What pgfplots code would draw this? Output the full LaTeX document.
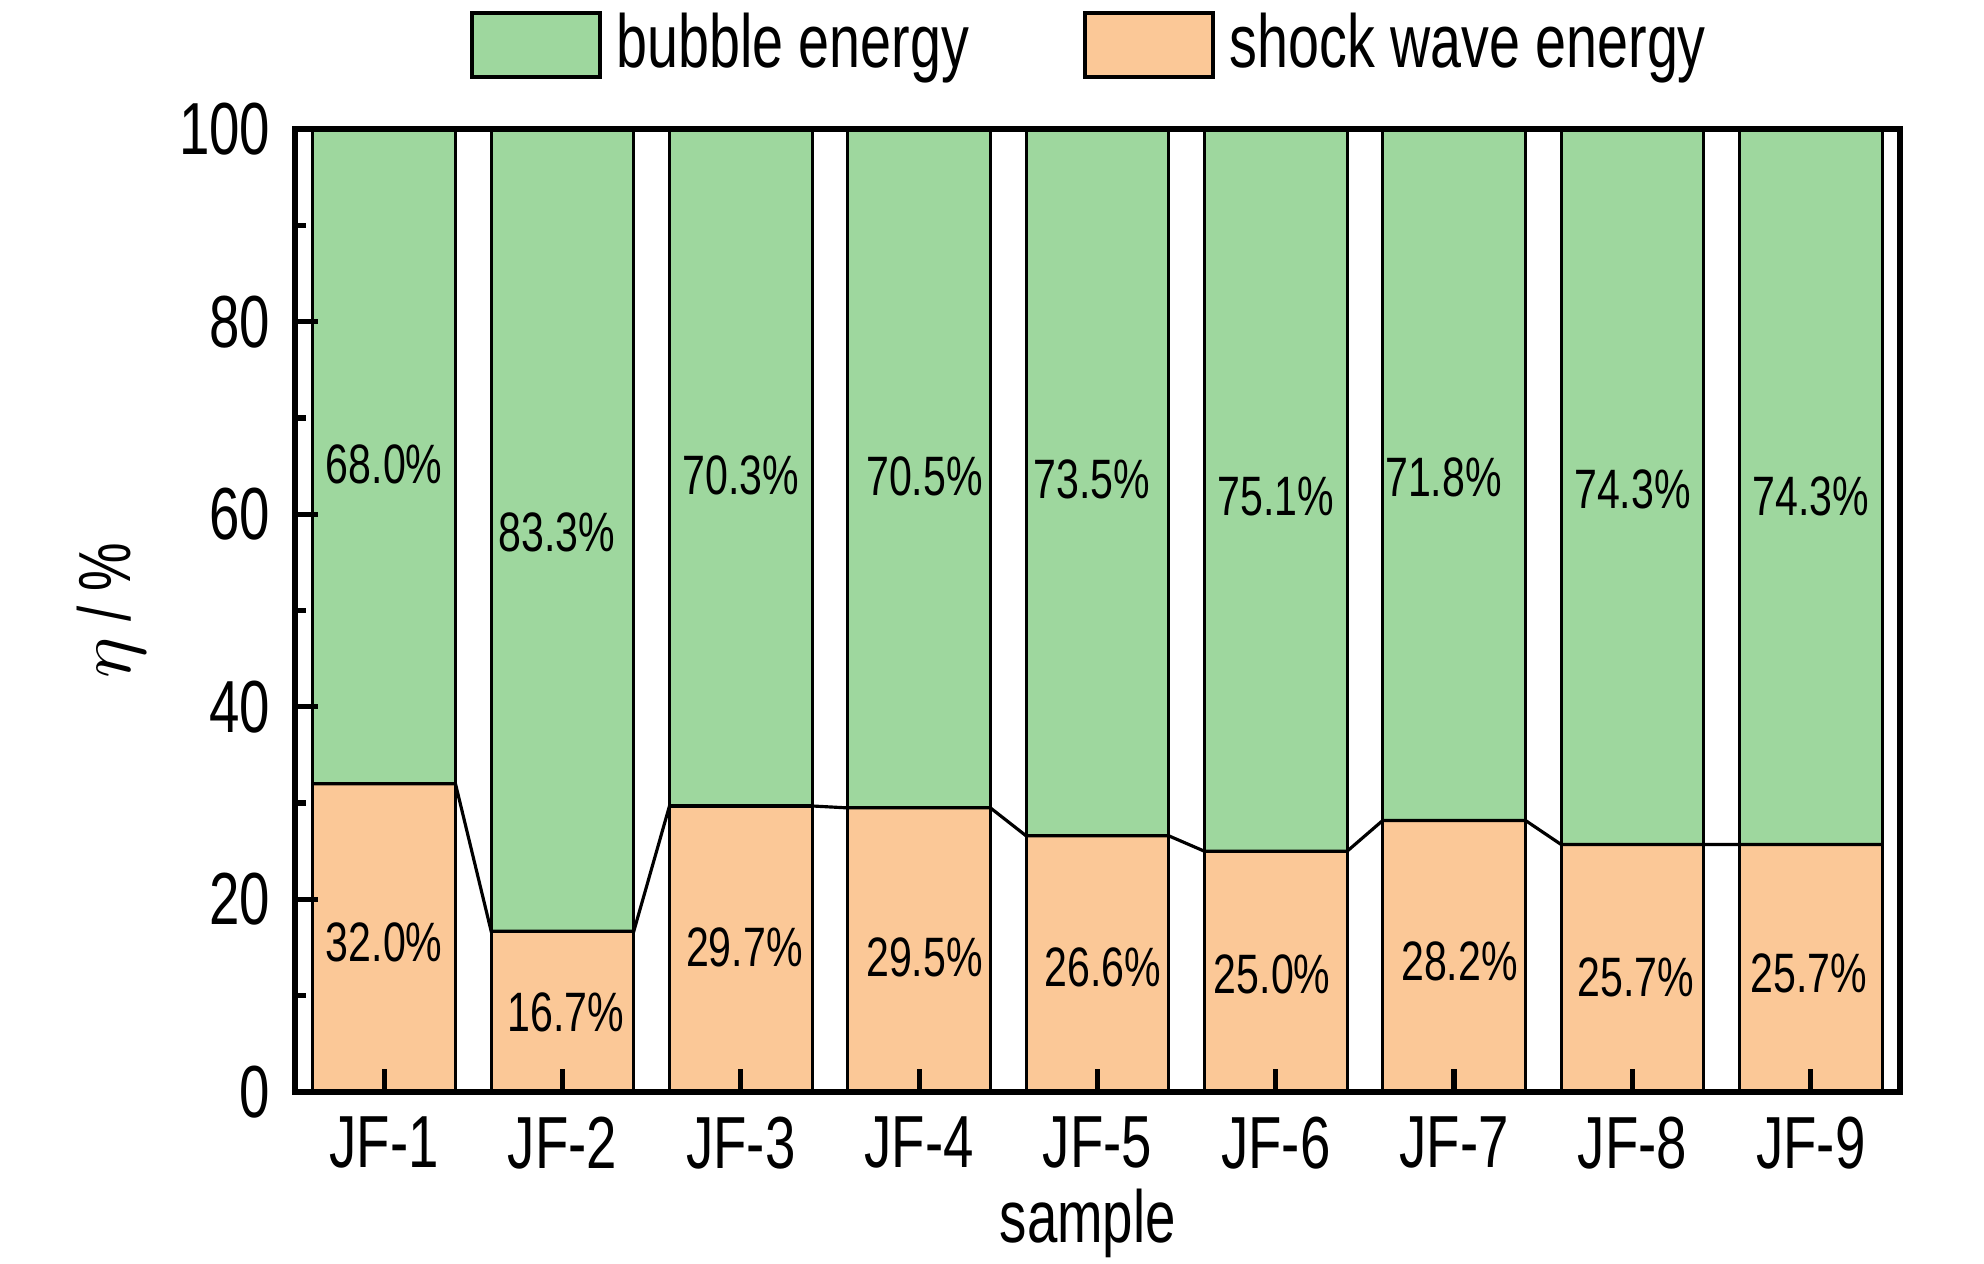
\documentclass[border=0pt]{standalone}
\usepackage{fontspec}
\setmainfont{Liberation Sans}[FakeStretch=0.74]
\usepackage{pgfplots}
\pgfplotsset{compat=1.18}
\definecolor{bgreen}{RGB}{158,215,158}
\definecolor{sorange}{RGB}{251,200,151}
\pgfplotsset{rectlegend/.style={legend image code/.code={\draw[##1,line width=0.6pt] (0mm,-1.6mm) rectangle (6.4mm,1.6mm);}}}
\begin{document}
\begin{tikzpicture}
\useasboundingbox (0,0) rectangle (99.2mm,63.2mm);
\begin{axis}[
 at={(14.75mm,8.6mm)}, anchor=south west,
 scale only axis, width=80.25mm, height=48.15mm,
 xmin=-0.5, xmax=8.5, ymin=0, ymax=100,
 xtick={0,...,8}, xticklabels={JF-1,JF-2,JF-3,JF-4,JF-5,JF-6,JF-7,JF-8,JF-9},
 ytick={0,20,...,100}, minor y tick num=1,
 tick align=inside, xtick pos=lower, ytick pos=lower,
 major tick length=1.15mm, minor tick length=0.55mm,
 axis line style={line width=0.75pt},
 tick style={line width=0.75pt, black},
 axis on top,
 /pgf/number format/assume math mode=true,
 ticklabel style={font=\fontsize{10.5}{12}\selectfont},
 xlabel={sample}, ylabel={$\eta$ / \%},
 label style={font=\fontsize{10.5}{12}\selectfont},
 xlabel style={at={(axis description cs:0.494,-0.137)}, anchor=center},
 ylabel style={at={(axis description cs:-0.1146,0.5)}, anchor=center},
 legend columns=2,
 legend style={draw=none, fill=none, at={(axis description cs:0.4985,1.087)}, anchor=center,
   font=\fontsize{10.7}{12}\selectfont,
   /tikz/every even column/.append style={column sep=5mm}},
 legend cell align=left,
]
\addplot[ybar, bar width=0.8, bar shift=0pt, fill=bgreen, draw=black, line width=0.45pt, rectlegend]
 coordinates {(0,100)(1,100)(2,100)(3,100)(4,100)(5,100)(6,100)(7,100)(8,100)};
\addlegendentry{bubble energy}
\addplot[ybar, bar width=0.8, bar shift=0pt, fill=sorange, draw=black, line width=0.45pt, rectlegend]
 coordinates {(0,32.0)(1,16.7)(2,29.7)(3,29.5)(4,26.6)(5,25.0)(6,28.2)(7,25.7)(8,25.7)};
\addlegendentry{shock wave energy}
\addplot[black, line width=0.45pt, forget plot] table {
x y
-0.4 32.0
0.4 32.0
0.6 16.7
1.4 16.7
1.6 29.7
2.4 29.7
2.6 29.5
3.4 29.5
3.6 26.6
4.4 26.6
4.6 25.0
5.4 25.0
5.6 28.2
6.4 28.2
6.6 25.7
7.4 25.7
7.6 25.7
8.4 25.7
};
\addplot[draw=none, mark=none, forget plot, nodes near coords={\pgfplotspointmeta\%},
 point meta=explicit symbolic,
 nodes near coords style={anchor=center, inner sep=0pt, font=\fontsize{7.9}{9}\selectfont}]
 table[meta=l] {
x y l
0.00 65.2 68.0
0.97 58.1 83.3
2.00 64.0 70.3
3.03 63.9 70.5
3.97 63.6 73.5
5.00 61.8 75.1
5.94 63.8 71.8
7.00 62.6 74.3
8.00 61.9 74.3
0.00 15.5 32.0
1.02 8.3 16.7
2.02 15.0 29.7
3.03 14.0 29.5
4.03 12.9 26.6
4.98 12.2 25.0
6.03 13.6 28.2
7.02 11.9 25.7
7.99 12.3 25.7
};
\end{axis}
\end{tikzpicture}
\end{document}
